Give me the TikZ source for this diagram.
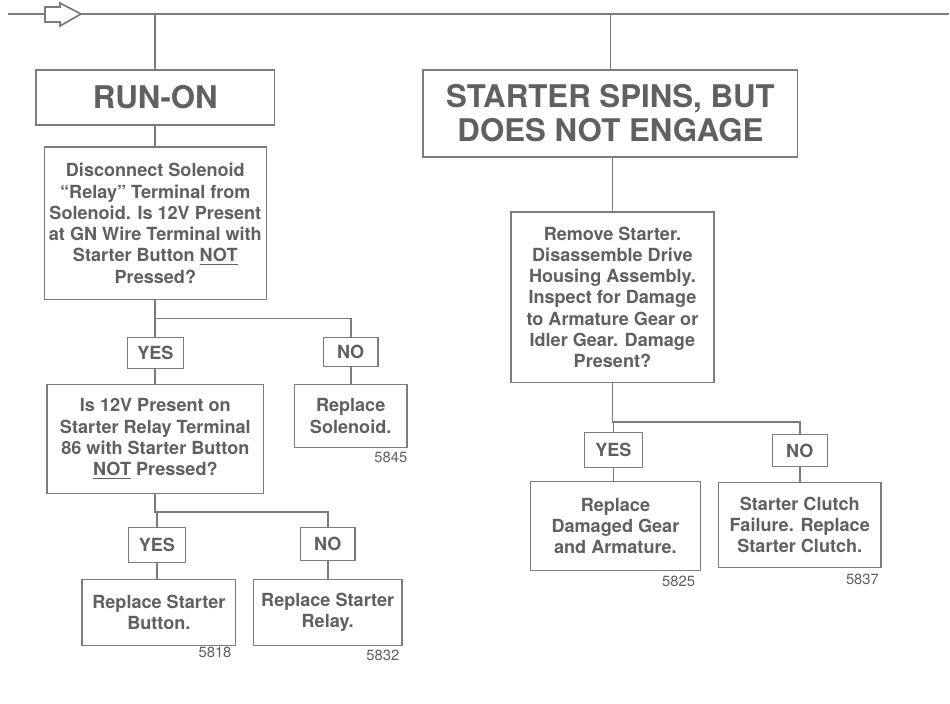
\documentclass[tikz,border=0pt]{standalone}
\usepackage{fontspec}
\setmainfont{TeX Gyre Heros}
\definecolor{ink}{HTML}{606060}
\definecolor{rule}{HTML}{7C7C7C}

\begin{document}
\begin{tikzpicture}[x=0.02cm,y=-0.02cm,
  box/.style={draw=rule,line width=0.8pt,text=ink,align=center,inner sep=0pt,font=\fontsize{10.3}{12.1}\selectfont\bfseries},
  head/.style={box,font=\fontsize{17.8}{19.5}\selectfont\bfseries},
  num/.style={text=ink,anchor=east,inner sep=0pt,font=\fontsize{8.4}{10}\selectfont},
  wire/.style={draw=rule,line width=1pt}]
  \path[fill=white] (0,0) rectangle (950,704);
  % entry bus with the hollow arrow
  \coordinate (busL) at (8,14);
  \coordinate (busR) at (950,14);
  \coordinate (tipL) at (45,14);
  \coordinate (tipR) at (81,14);
  \draw[wire] (busL) -- (tipL);
  \draw[wire] (tipR) -- (busR);
  \draw[wire,fill=white] (45,7) -- (60,7) -- (60,3) -- (tipR) -- (60,26) -- (60,22) -- (45,22) -- cycle;
  \coordinate (bus1) at (155.5,14);
  \coordinate (bus2) at (611,14);

  % left column: run-on
  \node[head,minimum width=4.78cm,minimum height=1.1cm] (run) at (155.5,97.5) {RUN-ON};
  \node[box,minimum width=4.44cm,minimum height=3.06cm] (q1) at (155.5,223.5) {Disconnect Solenoid\\“Relay” Terminal from\\Solenoid. Is 12V Present\\at GN Wire Terminal with\\Starter Button \underline{NOT}\\Pressed?};
  \node[box,minimum width=1.12cm,minimum height=0.62cm] (yes1) at (155.5,353.5) {YES};
  \node[box,minimum width=1.1cm,minimum height=0.58cm] (no1) at (351,352.5) {NO};
  \node[box,minimum width=4.34cm,minimum height=2.18cm] (q2) at (155.5,439.5) {Is 12V Present on\\Starter Relay Terminal\\86 with Starter Button\\\underline{NOT} Pressed?};
  \node[box,minimum width=2.26cm,minimum height=1.26cm] (sol) at (351,416.5) {Replace\\Solenoid.};
  \node[box,minimum width=1.14cm,minimum height=0.7cm] (yes2) at (157,545.5) {YES};
  \node[box,minimum width=1.1cm,minimum height=0.66cm] (no2) at (328,544.5) {NO};
  \node[box,minimum width=3.08cm,minimum height=1.32cm] (btn) at (159,613) {Replace Starter\\Button.};
  \node[box,minimum width=2.98cm,minimum height=1.32cm] (rly) at (328,613) {Replace Starter\\Relay.};
  \node[num] (n5845) at (408,458) {5845};
  \node[num] (n5818) at (232,653) {5818};
  \node[num] (n5832) at (400,656) {5832};

  \draw[wire] (bus1) -- (run);
  \draw[wire] (run) -- (q1);
  \draw[wire] (q1) -- (yes1);
  \draw[wire] (q1.south) -- ++(0,18) -| (no1);
  \draw[wire] (no1) -- (sol);
  \draw[wire] (yes1) -- (q2);
  \draw[wire] (q2.south) -- ++(0,18) -| (no2);
  \draw[wire] (q2.south) ++(0,18) -| (yes2);
  \draw[wire] (yes2) -- (yes2 |- btn.north);
  \draw[wire] (no2) -- (rly);

  % right column: starter spins
  \node[head,minimum width=7.5cm,minimum height=1.74cm] (spin) at (611,113.5) {STARTER SPINS, BUT\\DOES NOT ENGAGE};
  \node[box,minimum width=4.06cm,minimum height=3.42cm] (q3) at (613,297.5) {Remove Starter.\\Disassemble Drive\\Housing Assembly.\\Inspect for Damage\\to Armature Gear or\\Idler Gear. Damage\\Present?};
  \node[box,minimum width=1.16cm,minimum height=0.7cm] (yes3) at (614,450.5) {YES};
  \node[box,minimum width=1.1cm,minimum height=0.64cm] (no3) at (800.5,451) {NO};
  \node[box,minimum width=3.4cm,minimum height=1.78cm] (gear) at (616,526.5) {Replace\\Damaged Gear\\and Armature.};
  \node[box,minimum width=3.26cm,minimum height=1.7cm] (clutch) at (800.5,525.5) {Starter Clutch\\Failure. Replace\\Starter Clutch.};
  \node[num] (n5825) at (696,582) {5825};
  \node[num] (n5837) at (880,580) {5837};

  \draw[wire] (bus2) -- (spin.north -| bus2);
  \draw[wire] (spin.south -| q3.north) -- (q3);
  \draw[wire] (q3.south) -- ++(0,39) -| (no3);
  \draw[wire] (q3.south) ++(0,39) -| (yes3);
  \draw[wire] (yes3) -- (yes3 |- gear.north);
  \draw[wire] (no3) -- (clutch);
\end{tikzpicture}
\end{document}
